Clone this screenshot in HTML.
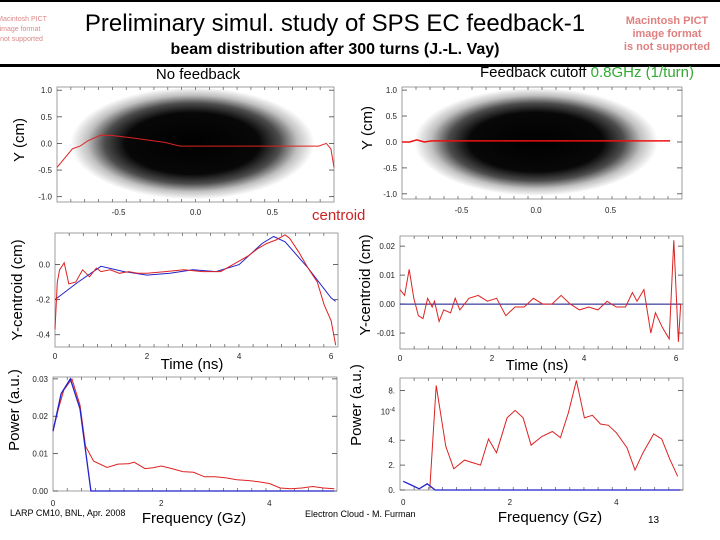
<!DOCTYPE html>
<html><head><meta charset="utf-8"><style>
body{margin:0;background:#fff;}
svg{display:block;font-family:"Liberation Sans",sans-serif;}
</style></head><body>
<svg id="s" width="720" height="540" viewBox="0 0 720 540">
<defs>
<radialGradient id="cloud" cx="50%" cy="50%" r="50%">
<stop offset="0" stop-color="#000" stop-opacity="1"/>
<stop offset="0.55" stop-color="#000" stop-opacity="0.97"/>
<stop offset="0.72" stop-color="#000" stop-opacity="0.7"/>
<stop offset="0.86" stop-color="#000" stop-opacity="0.25"/>
<stop offset="1" stop-color="#000" stop-opacity="0"/>
</radialGradient>
</defs>
<rect x="0" y="0" width="720" height="2" fill="#000"/>
<rect x="0" y="64" width="720" height="3" fill="#000"/>
<g fill="#d88" font-size="7" text-anchor="middle">
<text x="22" y="21">Macintosh PICT</text><text x="20" y="31">image format</text><text x="18" y="41">is not supported</text></g>
<g fill="#e08080" font-size="11" font-weight="bold" text-anchor="middle">
<text x="667" y="24">Macintosh PICT</text><text x="667" y="37">image format</text><text x="667" y="50">is not supported</text></g>
<text x="335" y="31" font-size="24" text-anchor="middle">Preliminary simul. study of SPS EC feedback-1</text>
<text x="335" y="54" font-size="16" font-weight="bold" text-anchor="middle">beam distribution after 300 turns (J.-L. Vay)</text>
<text x="198" y="79" font-size="15" text-anchor="middle">No feedback</text>
<text x="694" y="77" font-size="15" text-anchor="end">Feedback cutoff <tspan fill="#3a3">0.8GHz (1/turn)</tspan></text>
<text x="312" y="220" font-size="15" fill="#c22">centroid</text>
<g id="plots"></g>
<text x="10" y="516" font-size="9">LARP CM10, BNL, Apr. 2008</text>
<text x="305" y="517" font-size="9">Electron Cloud - M. Furman</text>
<text x="648" y="523" font-size="10">13</text>
</svg>
<script>
// data
const tlCentX=[-0.9,-0.8,-0.75,-0.7,-0.62,-0.55,-0.4,-0.2,-0.1,0.2,0.5,0.7,0.8,0.85,0.88,0.9];
const tlCentY=[-0.45,-0.1,-0.05,0.05,0.15,0.15,0.1,0.02,-0.05,-0.05,-0.05,-0.05,-0.05,0.0,-0.1,-0.45];
const trCentX=[-0.9,-0.85,-0.8,-0.75,-0.7,0.9];
const trCentY=[0.0,0.0,0.04,0.0,0.02,0.02];
const mlT=[0,0.05,0.1,0.2,0.3,0.45,0.6,0.75,0.9,1.0,1.2,1.4,1.6,1.8,2.0,2.4,2.8,3.2,3.6,3.8,4.0,4.2,4.4,4.6,4.8,5.0,5.1,5.3,5.5,5.7,5.85,6.0,6.1];
const mlRed=[-0.37,-0.1,-0.03,0.01,-0.11,-0.1,-0.03,-0.07,-0.02,-0.04,-0.03,-0.05,-0.04,-0.05,-0.05,-0.04,-0.03,-0.04,-0.04,-0.01,0.02,0.05,0.09,0.12,0.14,0.17,0.15,0.07,-0.02,-0.1,-0.23,-0.32,-0.46];
const mlBT=[0,0.5,1.0,1.5,2.0,2.5,3.0,3.5,4.0,4.5,4.75,5.0,5.5,6.0,6.1];
const mlBlue=[-0.2,-0.1,-0.01,-0.04,-0.06,-0.05,-0.03,-0.04,0.0,0.12,0.16,0.13,-0.02,-0.19,-0.21];
const mrT=[0,0.1,0.2,0.3,0.4,0.5,0.6,0.7,0.75,0.85,0.95,1.1,1.2,1.3,1.5,1.7,1.9,2.1,2.3,2.5,2.7,2.9,3.1,3.3,3.5,3.7,3.9,4.1,4.3,4.5,4.7,4.9,5.05,5.15,5.3,5.45,5.55,5.7,5.85,5.95,6.05,6.1];
const mrRed=[0.005,0.003,0.012,0.002,-0.004,-0.005,0.002,-0.001,0.001,-0.006,-0.002,-0.003,0.002,-0.002,0.002,0.003,0.001,0.002,-0.004,-0.001,-0.001,0.002,0,0,0.003,0,-0.002,-0.001,-0.002,0.001,-0.001,-0.001,0.004,0.001,0.005,-0.01,-0.003,-0.008,-0.012,0.022,-0.013,0];
const mrBT=[0,6.1];
const mrBlue=[0,0];
const blF=[0,0.1,0.2,0.35,0.5,0.6,0.75,1.0,1.2,1.4,1.5,1.7,1.85,2.0,2.2,2.4,2.6,2.8,3.0,3.2,3.4,3.6,3.8,4.0,4.2,4.4,4.6,4.8,5.0,5.2];
const blRed=[0.016,0.022,0.027,0.030,0.023,0.012,0.008,0.0063,0.0072,0.0073,0.0077,0.006,0.0062,0.0067,0.006,0.0052,0.005,0.0038,0.0038,0.0035,0.003,0.0028,0.0025,0.002,0.0008,0.0006,0.0008,0.0012,0.0008,0.0006];
const blBF=[0,0.15,0.32,0.5,0.7,5.2];
const blBlue=[0.016,0.026,0.030,0.022,0,0];
const brF=[0.5,0.62,0.8,0.95,1.15,1.45,1.6,1.75,1.95,2.1,2.25,2.4,2.6,2.8,2.95,3.1,3.25,3.4,3.55,3.7,3.85,4.0,4.2,4.35,4.5,4.7,4.85,5.0,5.15];
const brRed=[0.1,8.4,3.5,1.7,2.4,2.0,4.1,3.0,5.8,6.4,5.8,3.6,4.3,4.7,4.2,6.2,8.8,5.8,6.0,5.3,5.2,4.6,3.4,1.6,3.0,4.5,4.1,2.5,1.1];
const brBF=[0,0.15,0.3,0.45,0.6,5.2];
const brBlue=[0.7,0.4,0.1,0.5,0,0];
const tlTicksX=[-0.5,0.0,0.5], tlTicksY=[1.0,0.5,0.0,-0.5,-1.0];
const mlTicksX=[0,2,4,6], mlTicksY=[0.0,-0.2,-0.4];
const mrTicksY=[0.02,0.01,0.00,-0.01];
const blTicksX=[0,2,4], blTicksY=[0.03,0.02,0.01,0.00];
const brTicksY=[8,4,2,0];

const NS='http://www.w3.org/2000/svg';
const root=document.getElementById('plots');
function el(t,a,p){const e=document.createElementNS(NS,t);for(const k in a)e.setAttribute(k,a[k]);(p||root).appendChild(e);return e;}
function lin(d0,d1,r0,r1){return v=>r0+(v-d0)*(r1-r0)/(d1-d0);}

function panel(o){
  const g=el('g',{});
  
  
  const X=lin(o.xd[0],o.xd[1],o.x0,o.x1), Y=lin(o.yd[0],o.yd[1],o.y1,o.y0);
  if(o.cloud){const c=el('ellipse',{cx:X(o.cloud[0]),cy:Y(o.cloud[1]),rx:o.cloud[2],ry:o.cloud[3],fill:'url(#cloud)'},g);
    
    }
  const box=el('rect',{x:o.x0,y:o.y0,width:o.x1-o.x0,height:o.y1-o.y0,fill:'none',stroke:'#888','stroke-width':0.8},g);
  
  
  const nx=o.nx||20;
  for(let i=1;i<nx;i++){const x=o.x0+(o.x1-o.x0)*i/nx;
    el('line',{x1:x,x2:x,y1:o.y0,y2:o.y0+3,stroke:'#555','stroke-width':0.7},g);
    el('line',{x1:x,x2:x,y1:o.y1,y2:o.y1-3,stroke:'#555','stroke-width':0.7},g);}
  for(const v of o.ty){const y=Y(v);
    el('line',{x1:o.x0,x2:o.x0+5,y1:y,y2:y,stroke:'#444','stroke-width':0.8},g);
    el('line',{x1:o.x1,x2:o.x1-5,y1:y,y2:y,stroke:'#444','stroke-width':0.8},g);
    const t=el('text',{x:o.x0-(o.tyGap||5),y:y+3,'font-size':8,'text-anchor':'end',fill:'#222'},g);
    t.textContent=o.fy(v);
    
    }
  for(const v of o.tx){const x=X(v);
    const t=el('text',{x:x,y:o.y1+(o.txGap||12),'font-size':8,'text-anchor':'middle',fill:'#222'},g);
    t.textContent=o.fx(v);
    
    }
  if(o.extra){const t=el('text',{x:o.x0-5,y:Y(o.extra[0])+3,'font-size':8,'text-anchor':'end',fill:'#222'},g);
    t.innerHTML=o.extra[1];
    
    }
  for(const s of o.series){
    const pts=s.x.map((v,i)=>X(v).toFixed(1)+','+Y(s.y[i]).toFixed(1)).join(' ');
    const p=el('polyline',{points:pts,fill:'none',stroke:s.c,'stroke-width':s.w||1},g);
    
    }
  if(o.ylab){const t=el('text',{x:o.ylab[0],y:o.ylab[1],'font-size':15,'text-anchor':'middle',transform:`rotate(-90 ${o.ylab[0]} ${o.ylab[1]})`},g);
    t.textContent=o.ylab[2];
    
    }
  if(o.xlab){const t=el('text',{x:o.xlab[0],y:o.xlab[1],'font-size':15,'text-anchor':'middle'},g);
    t.textContent=o.xlab[2];
    
    }
}
const f1=v=>v.toFixed(1), f2=v=>v.toFixed(2), f0=v=>String(v);
panel({name:'scatter-no-feedback',x0:57,x1:334,y0:87,y1:202,xd:[-0.9,0.9],yd:[-1.1,1.06],
  cloud:[-0.02,0.0,122,56],tx:tlTicksX,ty:tlTicksY,fx:f1,fy:f1,txGap:13,
  series:[{x:tlCentX,y:tlCentY,c:'#d22',n:'centroid-line-no-feedback'}],ylab:[24,140,'Y (cm)']});
panel({name:'scatter-feedback',x0:402,x1:682,y0:87,y1:199,xd:[-0.9,0.98],yd:[-1.1,1.06],
  cloud:[0.0,0.0,122,54],tx:tlTicksX,ty:tlTicksY,fx:f1,fy:f1,txGap:14,
  series:[{x:trCentX,y:trCentY,c:'#e11',n:'centroid-line-feedback',w:1.5}],ylab:[372,128,'Y (cm)']});
panel({name:'centroid-no-feedback',x0:55,x1:338,y0:233,y1:347,xd:[0,6.15],yd:[-0.47,0.18],
  tx:mlTicksX,ty:mlTicksY,fx:f0,fy:f1,series:[{x:mlBT,y:mlBlue,c:'#22c',n:'blue-centroid-no-feedback'},{x:mlT,y:mlRed,c:'#d22',n:'red-centroid-no-feedback'}],
  ylab:[22,290,'Y-centroid (cm)'],xlab:[192,369,'Time (ns)']});
panel({name:'centroid-feedback',x0:400,x1:683,y0:236,y1:349,xd:[0,6.15],yd:[-0.0155,0.0235],
  tx:mlTicksX,ty:mrTicksY,fx:f0,fy:f2,series:[{x:mrBT,y:mrBlue,c:'#118',n:'blue-centroid-feedback'},{x:mrT,y:mrRed,c:'#d22',n:'red-centroid-feedback'}],
  ylab:[370,285,'Y-centroid (cm)'],xlab:[537,370,'Time (ns)']});
panel({name:'spectrum-no-feedback',x0:53,x1:337,y0:377,y1:491,xd:[0,5.25],yd:[0,0.0305],
  tx:blTicksX,ty:blTicksY,fx:f0,fy:f2,txGap:15,series:[{x:blF,y:blRed,c:'#d22',n:'red-spectrum-no-feedback'},{x:blBF,y:blBlue,c:'#22c',n:'blue-spectrum-no-feedback',w:1.3}],
  ylab:[19,410,'Power (a.u.)'],xlab:[194,523,'Frequency (Gz)']});
panel({name:'spectrum-feedback',x0:400,x1:683,y0:378,y1:490,xd:[-0.06,5.25],yd:[0,9.0],
  tx:blTicksX,ty:brTicksY,fx:f0,fy:v=>v+'.',txGap:15,extra:[6.3,'10<tspan font-size="6" dy="-3">-4</tspan>'],
  series:[{x:brF,y:brRed,c:'#d22',n:'red-spectrum-feedback'},{x:brBF,y:brBlue,c:'#22c',n:'blue-spectrum-feedback',w:1.3}],
  ylab:[361,405,'Power (a.u.)'],xlab:[550,522,'Frequency (Gz)']});
</script>
</body></html>
